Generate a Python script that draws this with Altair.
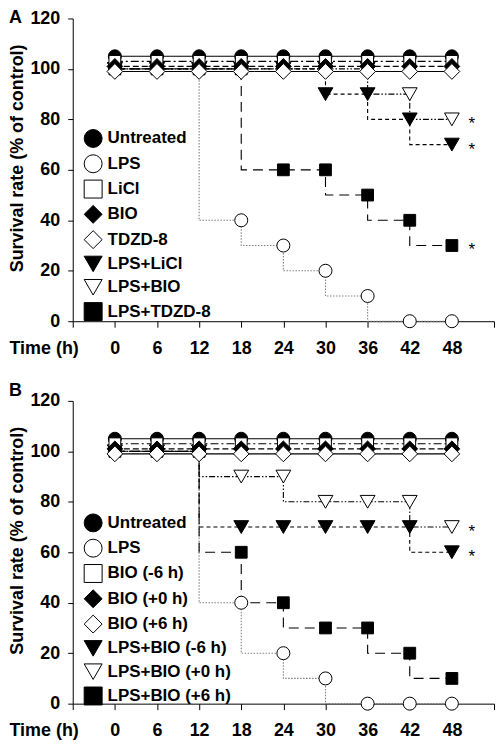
import altair as alt
import pandas as pd

# ---------------- data ----------------
times = [0, 6, 12, 18, 24, 30, 36, 42, 48]

# Panel A
series_a = ["Untreated", "LPS", "LiCl", "BIO", "TDZD-8", "LPS+LiCl", "LPS+BIO", "LPS+TDZD-8"]
untreated_a = [105, 105, 105, 105, 105, 105, 105, 105, 105]
lps_a = [100, 100, 100, 40, 30, 20, 10, 0, 0]
licl_a = [103, 103, 103, 103, 103, 103, 103, 103, 103]
bio_a = [101, 101, 101, 101, 101, 101, 101, 101, 101]
tdzd8_a = [99, 99, 99, 99, 99, 99, 99, 99, 99]
lps_licl_a = [100, 100, 100, 100, 100, 90, 90, 80, 70]
lps_bio_a = [100, 100, 100, 100, 100, 100, 100, 90, 80]
lps_tdzd8_a = [100, 100, 100, 100, 60, 60, 50, 40, 30]
values_a = [untreated_a, lps_a, licl_a, bio_a, tdzd8_a, lps_licl_a, lps_bio_a, lps_tdzd8_a]
# extra line vertex (series, time, value): drop drawn at the later time
extra_a = [("LPS+LiCl", 30, 100)]
stars_a = [("LPS+BIO", 48, 80), ("LPS+LiCl", 48, 70), ("LPS+TDZD-8", 48, 30)]

# Panel B
series_b = ["Untreated", "LPS", "BIO (-6 h)", "BIO (+0 h)", "BIO (+6 h)",
            "LPS+BIO (-6 h)", "LPS+BIO (+0 h)", "LPS+BIO (+6 h)"]
untreated_b = [105, 105, 105, 105, 105, 105, 105, 105, 105]
lps_b = [100, 100, 100, 40, 20, 10, 0, 0, 0]
bio_m6_b = [103, 103, 103, 103, 103, 103, 103, 103, 103]
bio_0_b = [101, 101, 101, 101, 101, 101, 101, 101, 101]
bio_p6_b = [99, 99, 99, 99, 99, 99, 99, 99, 99]
lps_bio_m6_b = [100, 100, 100, 70, 70, 70, 70, 70, 60]
lps_bio_0_b = [100, 100, 100, 90, 90, 80, 80, 80, 70]
lps_bio_p6_b = [100, 100, 100, 60, 40, 30, 30, 20, 10]
values_b = [untreated_b, lps_b, bio_m6_b, bio_0_b, bio_p6_b, lps_bio_m6_b, lps_bio_0_b, lps_bio_p6_b]
extra_b = []
stars_b = [("LPS+BIO (+0 h)", 48, 70), ("LPS+BIO (-6 h)", 48, 60)]

x_ticks = [-6, 0, 6, 12, 18, 24, 30, 36, 42, 48, 54]
y_ticks = [0, 20, 40, 60, 80, 100, 120]

# ---------------- styles ----------------
shapes = ["circle", "circle", "square", "diamond", "diamond", "triangle-down", "triangle-down", "square"]
fills = ["black", "white", "white", "black", "white", "black", "white", "black"]
strokes = ["black"] * 8
sizes = [170, 170, 140, 250, 250, 220, 220, 140]
dashes = [[1, 0], [1.5, 1.5], [8, 3, 2, 3], [6, 3], [1, 0], [4, 3], [6, 2, 1.5, 2, 1.5, 2], [10, 6]]
line_colors = ["black", "#808080", "black", "black", "black", "black", "black", "black"]
draw_order = [1, 5, 6, 7, 0, 2, 3, 4]

FONT = "Liberation Sans"
W = 423
H = 304
LEFT = -64


def panel(names, values, extra, stars, letter, legend_y):
    x = alt.X("time:Q", scale=alt.Scale(domain=[-6, 54], nice=False, zero=False),
              axis=alt.Axis(values=x_ticks,
                            labelExpr="datum.value < 0 || datum.value > 48 ? '' : datum.label",
                            title="Time (h)", titleX=LEFT, titleY=27, titleAngle=0,
                            titleAlign="left", titleBaseline="middle",
                            tickSize=6, labelPadding=12, labelFlush=False, labelOverlap=False))
    y = alt.Y("value:Q", scale=alt.Scale(domain=[0, 120], nice=False, zero=True),
              axis=alt.Axis(values=y_ticks, title="Survival rate (% of control)",
                            titleX=LEFT + 18, titleY=140, titleAngle=270, titleAlign="center",
                            titleAnchor="middle", titleBaseline="bottom",
                            tickSize=5, labelPadding=8))

    leg = alt.Legend(orient="none", legendX=11, legendY=legend_y, title=None,
                     symbolSize=324, symbolStrokeWidth=1,
                     labelFont=FONT, labelFontSize=17, labelFontWeight="bold",
                     labelColor="black", labelOffset=5, rowPadding=2.4, padding=0, labelLimit=300)
    shape_enc = alt.Shape("series:N", scale=alt.Scale(domain=names, range=shapes), legend=leg)
    fill_enc = alt.Fill("series:N", scale=alt.Scale(domain=names, range=fills), legend=leg)
    stroke_enc = alt.Stroke("series:N", scale=alt.Scale(domain=names, range=strokes), legend=leg)

    layers = []
    # step lines, one per series
    for i, name in enumerate(names):
        rows = [{"time": t, "value": v, "seq": t * 10 + 1} for t, v in zip(times, values[i])]
        rows += [{"time": t, "value": v, "seq": t * 10} for s, t, v in extra if s == name]
        layers.append(
            alt.Chart(pd.DataFrame(rows)).mark_line(
                interpolate="step-before", strokeWidth=1.1,
                strokeDash=dashes[i], color=line_colors[i]
            ).encode(x=x, y=y, order=alt.Order("seq:Q"))
        )
    # markers, one layer per series
    for i in draw_order:
        df = pd.DataFrame({"series": names[i], "time": times, "value": values[i]})
        layers.append(
            alt.Chart(df).mark_point(filled=True, opacity=1, strokeWidth=1,
                                     size=sizes[i]).encode(x=x, y=y, shape=shape_enc,
                                                           fill=fill_enc, stroke=stroke_enc)
        )
    stars_df = pd.DataFrame(stars, columns=["series", "time", "value"])
    layers.append(
        alt.Chart(stars_df).mark_text(text="*", dx=20, dy=5, fontSize=17, font=FONT,
                                      align="center", baseline="middle", color="black").encode(x=x, y=y)
    )
    layers.append(
        alt.Chart(pd.DataFrame({"t": [letter]})).mark_text(
            x=LEFT, y=-9 if letter == "A" else -19, align="left", baseline="top",
            fontSize=18, fontWeight="bold", font=FONT, color="black").encode(text="t:N")
    )
    return alt.layer(*layers).properties(width=W, height=H)


chart_a = panel(series_a, values_a, extra_a, stars_a, "A", 111)
chart_b = panel(series_b, values_b, extra_b, stars_b, "B", 113)

chart = alt.vconcat(chart_a, chart_b, spacing=80, bounds="flush").resolve_scale(
    shape="independent", fill="independent", stroke="independent"
).resolve_legend(shape="independent", fill="independent", stroke="independent").configure_view(
    stroke=None
).configure_axis(
    labelFont=FONT, labelFontSize=18, labelFontWeight="bold", labelColor="black",
    titleFont=FONT, titleFontSize=18, titleFontWeight="bold", titleColor="black",
    domainColor="black", tickColor="black", domainWidth=1, tickWidth=1, grid=False
).properties(padding=0, background="white")

chart.save("out.html", embed_options={"renderer": "svg", "actions": False})
